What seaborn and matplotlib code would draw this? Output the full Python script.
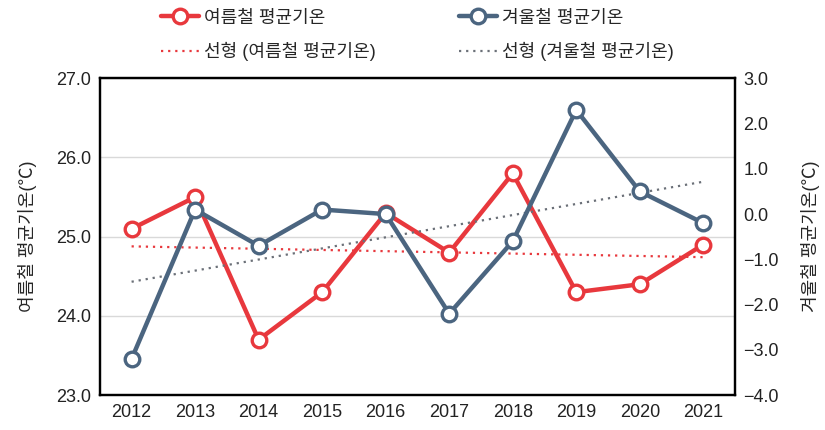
import numpy as np
import pandas as pd
import matplotlib
matplotlib.use('Agg')
import matplotlib.pyplot as plt
import seaborn as sns

# data
years = ['2012', '2013', '2014', '2015', '2016', '2017', '2018', '2019', '2020', '2021']
summer_temp = [25.1, 25.5, 23.7, 24.3, 25.3, 24.8, 25.8, 24.3, 24.4, 24.9]
winter_temp = [-3.2, 0.1, -0.7, 0.1, 0.0, -2.2, -0.6, 2.3, 0.5, -0.2]

summer_label = '여름철 평균기온'
winter_label = '겨울철 평균기온'
summer_trend_label = '선형 (여름철 평균기온)'
winter_trend_label = '선형 (겨울철 평균기온)'

red = '#e8383d'
blue = '#4b6580'

sns.set_theme(style='white')
plt.rcParams['font.family'] = ['Liberation Sans', 'Noto Sans CJK KR', 'DejaVu Sans']
plt.rcParams['axes.unicode_minus'] = True

df = pd.DataFrame({'year': years, 'summer': summer_temp, 'winter': winter_temp})
df['pos'] = np.arange(len(df))

# linear trend lines (like Excel's "선형" trendline)
s_fit = np.polyfit(df['pos'], df['summer'], 1)
w_fit = np.polyfit(df['pos'], df['winter'], 1)
df['summer_trend'] = np.polyval(s_fit, df['pos'])
df['winter_trend'] = np.polyval(w_fit, df['pos'])

fig = plt.figure(figsize=(8.25, 4.3), dpi=100)
ax = fig.add_axes([0.121, 0.081, 0.770, 0.737])
ax2 = ax.twinx()

sns.lineplot(data=df, x='pos', y='summer_trend', ax=ax, color=red, linestyle=(0, (1, 2.2)),
             linewidth=1.6, label=summer_trend_label, legend=False)
sns.lineplot(data=df, x='pos', y='winter_trend', ax=ax2, color='#6b7078', linestyle=(0, (1, 2.2)),
             linewidth=1.6, label=winter_trend_label, legend=False)
sns.lineplot(data=df, x='pos', y='summer', ax=ax, color=red, linewidth=3.2, marker='o',
             markersize=10.5, markerfacecolor='white', markeredgecolor=red, markeredgewidth=2.4,
             label=summer_label, legend=False, zorder=3)
sns.lineplot(data=df, x='pos', y='winter', ax=ax2, color=blue, linewidth=3.2, marker='o',
             markersize=10.5, markerfacecolor='white', markeredgecolor=blue, markeredgewidth=2.4,
             label=winter_label, legend=False, zorder=3)

ax.set_xlim(-0.5, len(years) - 0.5)
ax.set_ylim(23, 27)
ax.set_yticks(np.arange(23, 27.01, 1.0))
ax.set_yticklabels([f'{v:.1f}' for v in np.arange(23, 27.01, 1.0)], fontsize=13)
ax2.set_ylim(-4, 3)
ax2.set_yticks(np.arange(-4, 3.01, 1.0))
ax2.set_yticklabels([f'{v:.1f}'.replace('-', '\u2212') for v in np.arange(-4, 3.01, 1.0)], fontsize=13)
ax.set_xticks(df['pos'])
ax.set_xticklabels(years, fontsize=13)
ax.set_xlabel('')
ax.set_ylabel('여름철 평균기온(℃)', fontsize=13, labelpad=14)
ax2.set_ylabel('겨울철 평균기온(℃)', fontsize=13, labelpad=16)

ax.grid(axis='y', color='#d9d9d9', linewidth=1)
ax.set_axisbelow(True)
ax2.grid(False)
for a in (ax, ax2):
    a.tick_params(length=0, pad=6, colors='#222222')
    for sp in a.spines.values():
        sp.set_color('black')
        sp.set_linewidth(1.6)

h1, l1 = ax.get_legend_handles_labels()
h2, l2 = ax2.get_legend_handles_labels()
lookup = dict(zip(l1 + l2, h1 + h2))
order = [summer_label, summer_trend_label, winter_label, winter_trend_label]
fig.legend([lookup[k] for k in order], order, ncol=2, loc='upper left',
           bbox_to_anchor=(0.175, 1.015), frameon=False, fontsize=13,
           handlelength=2.1, columnspacing=4.6, labelspacing=0.85, handletextpad=0.3)

fig.savefig('out.png', dpi=100)
